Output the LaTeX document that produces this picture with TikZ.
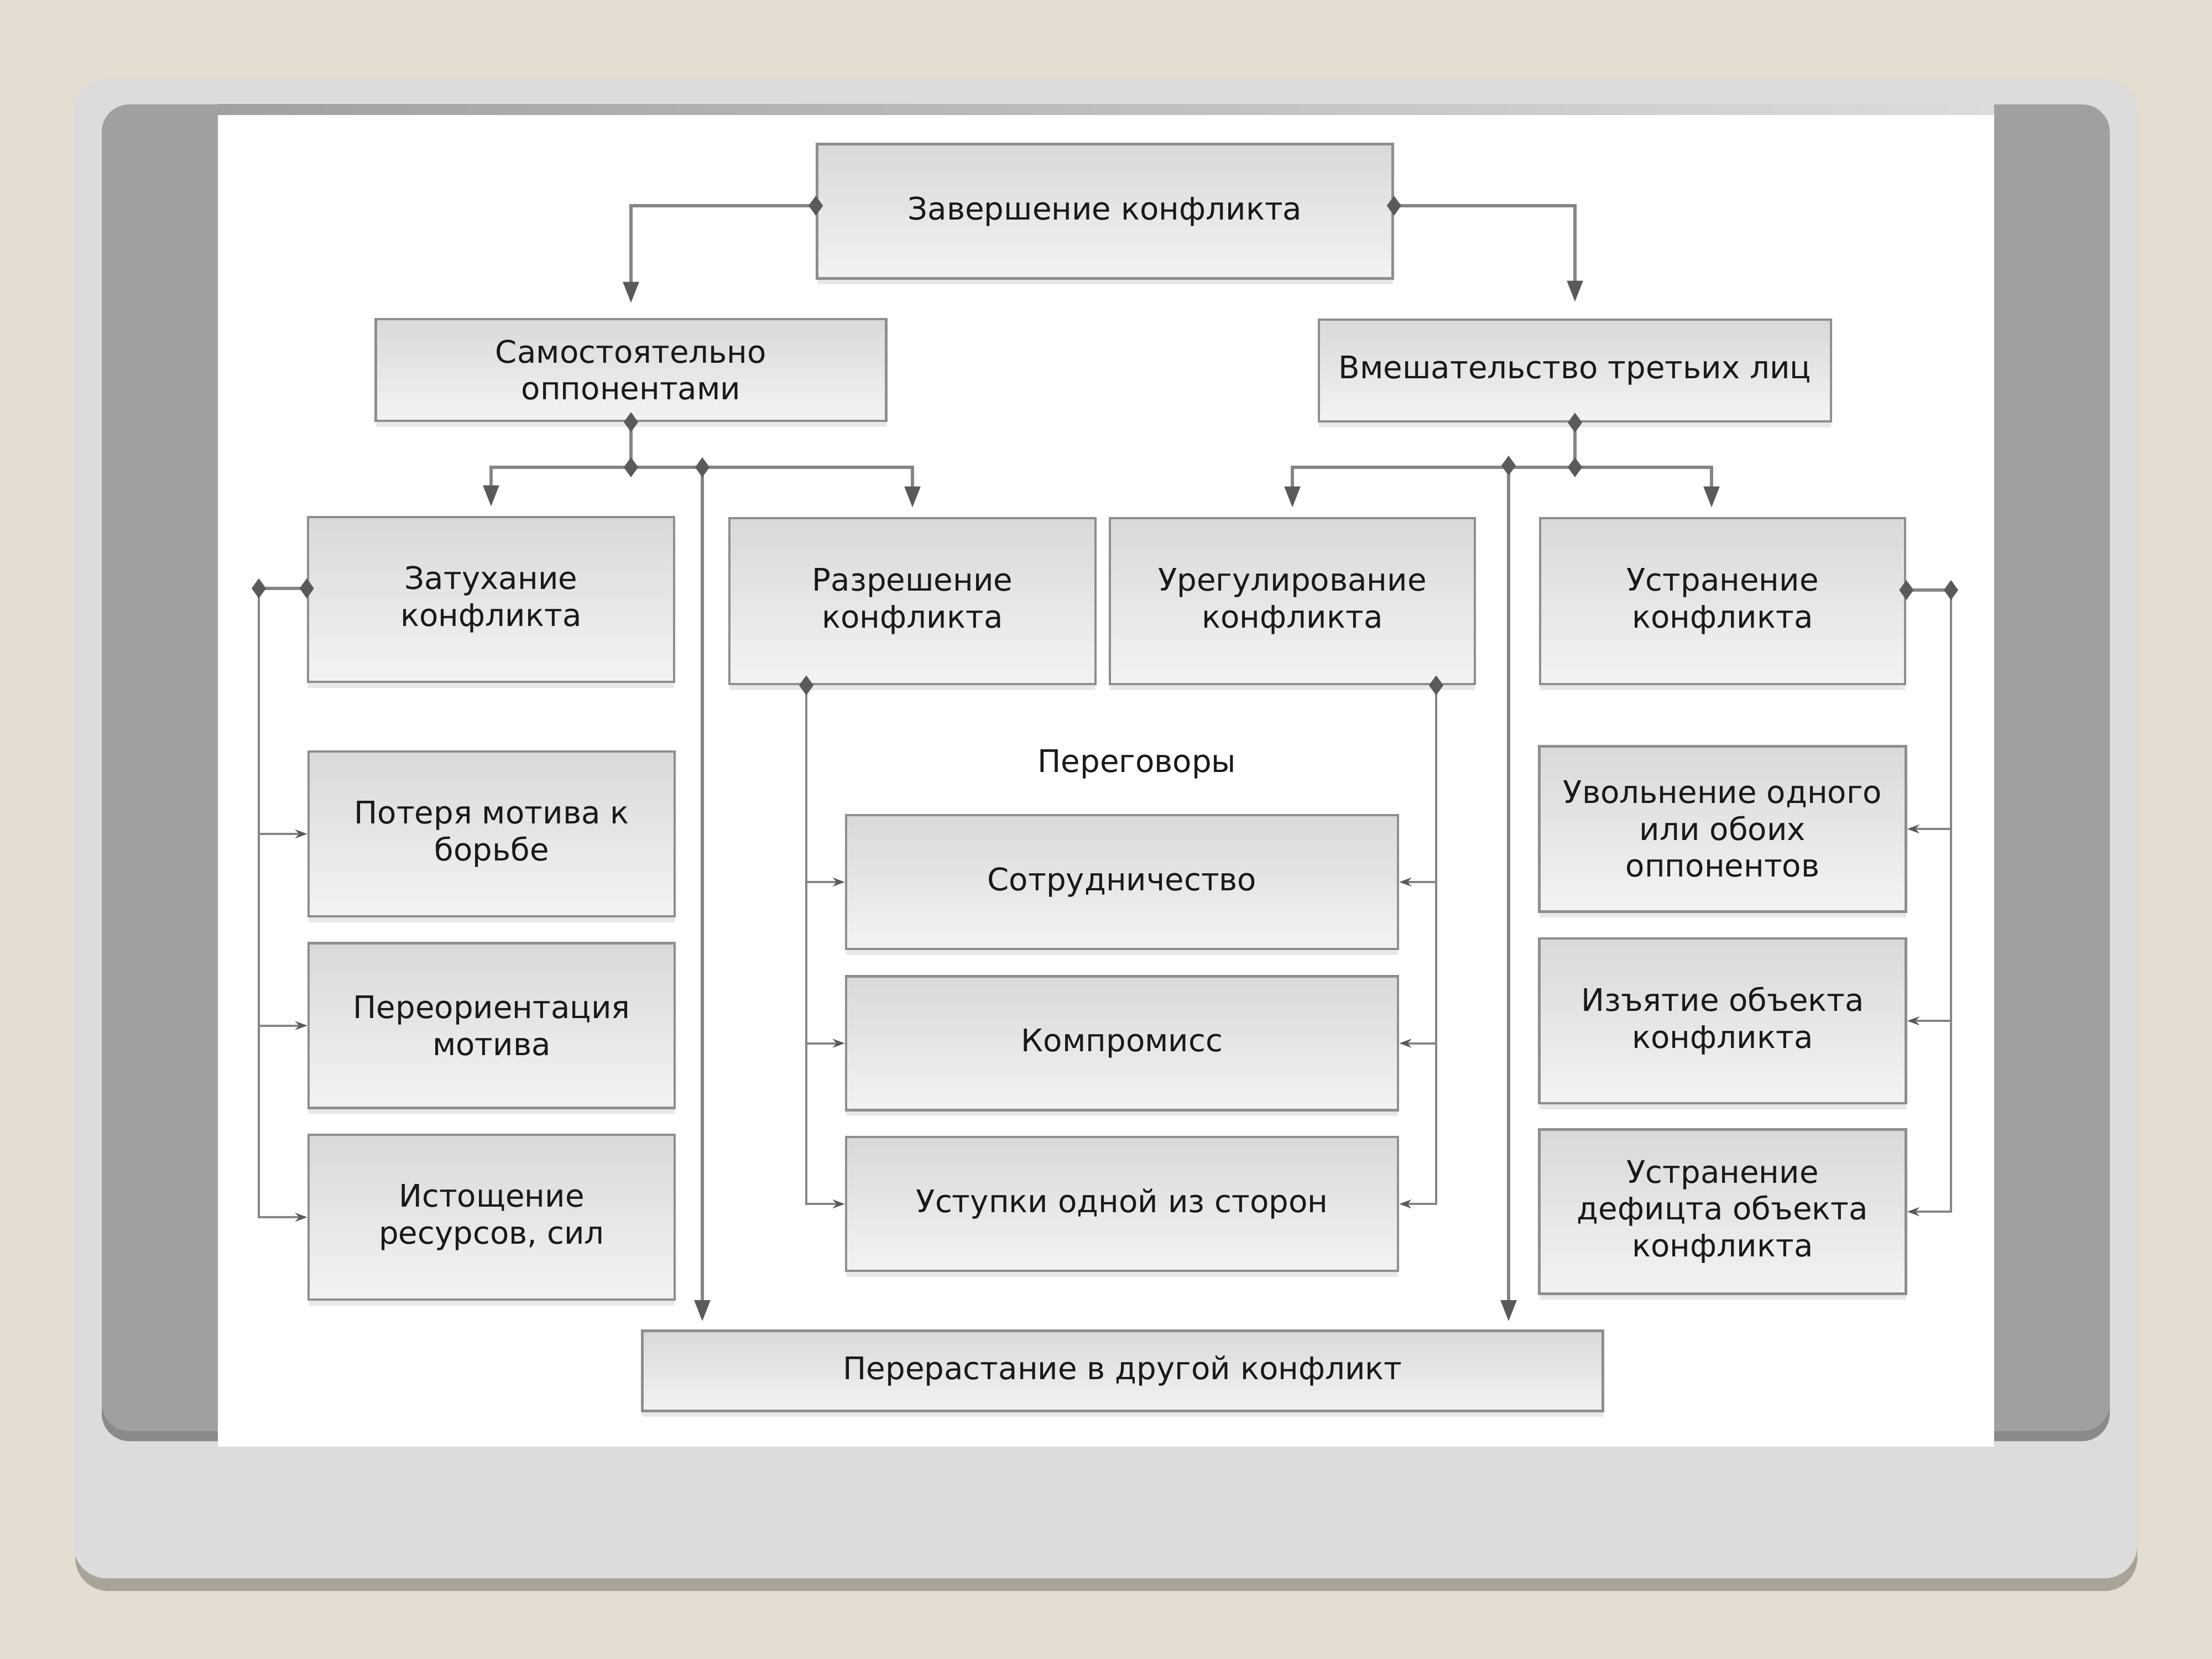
\documentclass[tikz,border=0pt]{standalone}
\usepackage{fontspec}
\setmainfont{DejaVu Sans}
\usepackage{xcolor}
\usetikzlibrary{arrows.meta,positioning,shadows}
\definecolor{bgcol}{HTML}{E3DDD2}
\definecolor{panelcol}{HTML}{DCDCDC}
\definecolor{panelshd}{HTML}{A8A598}
\definecolor{framecol}{HTML}{A0A0A0}
\definecolor{frameedge}{HTML}{8A8A8A}
\definecolor{linecol}{HTML}{858585}
\definecolor{tipcol}{HTML}{5A5A5A}
\definecolor{boxtop}{HTML}{D9D9D9}
\definecolor{boxbot}{HTML}{F3F3F3}
\definecolor{boxline}{HTML}{8E8E8E}
\newcommand{\dmd}[1]{\fill[tipcol] (#1) +(0,0.18) -- +(0.13,0) -- +(0,-0.18) -- +(-0.13,0) -- cycle;}

\begin{document}
\begin{tikzpicture}[y=-1cm,
  cbox/.style={draw=boxline,line width=1.3pt,top color=boxtop,bottom color=boxbot,
               align=center,inner sep=2pt,font=\fontsize{16}{19}\selectfont,text=black!90,
               drop shadow={shadow xshift=0pt,shadow yshift=-3pt,opacity=0.18}},
  link/.style={draw=linecol,line width=1.5pt},
  bigarr/.style={link,-{Triangle[length=0.38cm,width=0.28cm,color=tipcol]}},
  smarr/.style={draw=linecol,line width=1.1pt,-{Stealth[length=0.22cm,width=0.16cm,color=tipcol]}}
]
  \useasboundingbox (0,0) rectangle (40,30);
  \fill[bgcol] (0,0) rectangle (40,30);
  \fill[panelshd,rounded corners=0.6cm] (1.36,1.45) rectangle (38.65,28.77);
  \fill[panelcol,rounded corners=0.6cm] (1.33,1.43) rectangle (38.65,28.54);
  \fill[frameedge,rounded corners=0.5cm] (1.84,1.89) rectangle (38.15,26.06);
  \fill[framecol,rounded corners=0.5cm] (1.84,1.89) rectangle (38.15,25.88);
  \shade[left color=framecol,right color=panelcol] (3.94,1.89) rectangle (36.06,2.08);
  \fill[white] (3.94,2.08) rectangle (36.06,26.16);

  \node[cbox,minimum width=10.41cm,minimum height=2.43cm] (zav) at (19.98,3.82) {Завершение конфликта};
  \node[cbox,minimum width=9.23cm,minimum height=1.84cm] (sam) at (11.41,6.69) {Самостоятельно\\оппонентами};
  \node[cbox,minimum width=9.26cm,minimum height=1.84cm] (vme) at (28.48,6.70) {Вмешательство третьих лиц};

  \node[cbox,minimum width=6.62cm,minimum height=2.98cm] (zat) at (8.88,10.84) {Затухание\\конфликта};
  \node[cbox,minimum width=6.62cm,minimum height=3.0cm] (raz) at (16.50,10.87) {Разрешение\\конфликта};
  \node[cbox,minimum width=6.6cm,minimum height=3.0cm] (ure) at (23.37,10.87) {Урегулирование\\конфликта};
  \node[cbox,minimum width=6.6cm,minimum height=3.0cm] (ust) at (31.15,10.87) {Устранение\\конфликта};

  \node[cbox,minimum width=6.62cm,minimum height=2.98cm] (pot) at (8.89,15.08) {Потеря мотива к\\борьбе};
  \node[cbox,minimum width=6.62cm,minimum height=2.98cm,below=0.44cm of pot] (pere) {Переориентация\\мотива};
  \node[cbox,minimum width=6.62cm,minimum height=2.98cm,below=0.44cm of pere] (ist) {Истощение\\ресурсов, сил};

  \node[font=\fontsize{16}{19}\selectfont,text=black!90] (neg) at (20.56,13.82) {Переговоры};
  \node[cbox,minimum width=9.98cm,minimum height=2.42cm] (sot) at (20.29,15.95) {Сотрудничество};
  \node[cbox,minimum width=9.98cm,minimum height=2.42cm,below=0.45cm of sot] (kom) {Компромисс};
  \node[cbox,minimum width=9.98cm,minimum height=2.42cm,below=0.44cm of kom] (usp) {Уступки одной из сторон};

  \node[cbox,minimum width=6.63cm,minimum height=2.99cm] (uvo) at (31.15,14.99) {Увольнение одного\\или обоих\\оппонентов};
  \node[cbox,minimum width=6.63cm,minimum height=2.98cm,below=0.44cm of uvo] (izy) {Изъятие объекта\\конфликта};
  \node[cbox,minimum width=6.63cm,minimum height=2.97cm,below=0.43cm of izy] (def) {Устранение\\дефицта объекта\\конфликта};

  \node[cbox,minimum width=17.37cm,minimum height=1.45cm] (prs) at (20.30,24.79) {Перерастание в другой конфликт};

  \coordinate (zw) at ([yshift=0.1cm]zav.west);
  \coordinate (ze) at ([yshift=0.1cm]zav.east);
  \draw[bigarr,shorten >=0.27cm] (zw) -| (sam.north);
  \draw[bigarr,shorten >=0.3cm] (ze) -| (vme.north);

  \coordinate (js) at (sam.south |- 0,8.45);
  \coordinate (jsb) at (12.7,8.45);
  \draw[link] (sam.south) -- (js);
  \draw[bigarr,shorten >=0.17cm] (js) -| (zat.north);
  \draw[bigarr,shorten >=0.17cm] (js) -| (raz.north);
  \draw[bigarr,shorten >=0.15cm] (jsb) -- (jsb |- prs.north);

  \coordinate (jv) at (vme.south |- 0,8.45);
  \coordinate (jvb) at (27.28,8.42);
  \draw[link] (vme.south) -- (jv);
  \draw[bigarr,shorten >=0.17cm] (jv) -| (ure.north);
  \draw[bigarr,shorten >=0.17cm] (jv) -| ([xshift=-0.2cm]ust.north);
  \draw[bigarr,shorten >=0.15cm] (jvb) -- (jvb |- prs.north);

  \coordinate (zt) at ([yshift=0.2cm]zat.west);
  \coordinate (bl) at (zt -| 4.68,0);
  \draw[link] (zt) -- (bl);
  \draw[smarr] (bl) |- (ist.west);
  \draw[smarr] (bl |- pot.west) -- (pot.west);
  \draw[smarr] (bl |- pere.west) -- (pere.west);

  \coordinate (ut) at ([yshift=0.2cm]ust.east);
  \coordinate (br) at (ut -| 35.28,0);
  \draw[link] (ut) -- (br);
  \draw[smarr] (br) |- (def.east);
  \draw[smarr] (br |- uvo.east) -- (uvo.east);
  \draw[smarr] (br |- izy.east) -- (izy.east);

  \coordinate (rl) at (raz.south -| 14.58,0);
  \draw[smarr] (rl) |- (usp.west);
  \draw[smarr] (rl |- sot.west) -- (sot.west);
  \draw[smarr] (rl |- kom.west) -- (kom.west);

  \coordinate (ur) at (ure.south -| 25.97,0);
  \draw[smarr] (ur) |- (usp.east);
  \draw[smarr] (ur |- sot.east) -- (sot.east);
  \draw[smarr] (ur |- kom.east) -- (kom.east);

  \dmd{zw} \dmd{ze}
  \dmd{sam.south} \dmd{js} \dmd{jsb}
  \dmd{vme.south} \dmd{jv} \dmd{jvb}
  \dmd{zt} \dmd{bl}
  \dmd{ut} \dmd{br}
  \dmd{rl} \dmd{ur}
\end{tikzpicture}
\end{document}
